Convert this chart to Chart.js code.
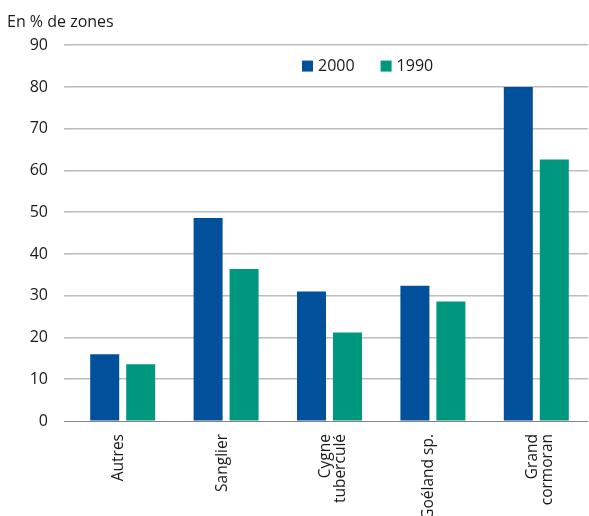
<!DOCTYPE html>
<html lang="fr">
<head>
<meta charset="utf-8">
<title>Zones touchées par espèce</title>
<script src="https://cdn.jsdelivr.net/npm/chart.js@4.4.1/dist/chart.umd.min.js"></script>
<style>
  html, body { margin: 0; padding: 0; background: #ffffff; }
  #wrap { position: relative; width: 589px; height: 516px; }
</style>
</head>
<body>
<div id="wrap"><canvas id="chart"></canvas></div>
<script>
// Espèces (catégories) et part des zones concernées, en %
const categories = ['Autres', 'Sanglier', ['Cygne', 'tuberculé'], 'Goéland sp.', ['Grand', 'cormoran']];
const values2000 = [16, 48.6, 31, 32.4, 80];
const values1990 = [13.6, 36.4, 21.2, 28.6, 62.6];
const seriesLabels = ['2000', '1990'];
const yTicks = [0, 10, 20, 30, 40, 50, 60, 70, 80, 90];
const yTitle = 'En % de zones';

const FONT = '"Open Sans", "Noto Sans", sans-serif';
const TEXT = '#1a1a1a';
const BLUE = '#00509c';
const GREEN = '#00977f';

// Légende dessinée dans la zone du graphique, entre les lignes 90 et 80
const insideLegend = {
  id: 'insideLegend',
  afterDraw(chart) {
    const { ctx, chartArea } = chart;
    const y = chart.scales.y.getPixelForValue(85);
    let x = chartArea.left + 231;
    ctx.save();
    ctx.font = '16px ' + FONT;
    ctx.textBaseline = 'middle';
    chart.data.datasets.forEach((ds) => {
      ctx.fillStyle = ds.backgroundColor;
      ctx.fillRect(x, y - 5.5, 11, 11);
      x += 16;
      ctx.fillStyle = TEXT;
      ctx.fillText(ds.label, x, y + 0.5);
      x += ctx.measureText(ds.label).width + 26;
    });
    ctx.restore();
  }
};

new Chart(document.getElementById('chart'), {
  type: 'bar',
  data: {
    labels: categories,
    datasets: [
      { label: seriesLabels[0], data: values2000, backgroundColor: BLUE },
      { label: seriesLabels[1], data: values1990, backgroundColor: GREEN }
    ]
  },
  options: {
    responsive: true,
    maintainAspectRatio: false,
    animation: false,
    layout: { padding: { left: 7, right: 1, top: 0, bottom: 0 } },
    datasets: {
      bar: { categoryPercentage: 0.696, barPercentage: 0.806 }
    },
    plugins: {
      legend: { display: false },
      tooltip: { enabled: false },
      title: {
        display: true,
        text: yTitle,
        align: 'start',
        color: TEXT,
        font: { family: FONT, size: 16, weight: 'normal' },
        padding: { top: 13, bottom: 13 }
      }
    },
    scales: {
      x: {
        grid: { display: false },
        border: { display: false },
        ticks: {
          color: TEXT,
          font: { family: FONT, size: 15.5, lineHeight: 0.97 },
          minRotation: 90,
          maxRotation: 90,
          autoSkip: false,
          padding: 5,
          labelOffset: -4
        },
        afterFit(scale) { scale.height = 95; }
      },
      y: {
        min: 0,
        max: 90,
        afterBuildTicks(scale) { scale.ticks = yTicks.map(v => ({ value: v })); },
        border: { display: false },
        grid: {
          color: (c) => (c.tick && c.tick.value === 0 ? '#858585' : '#bcbcbc'),
          lineWidth: (c) => (c.tick && c.tick.value === 0 ? 1 : 1.6),
          tickLength: 7,
          drawTicks: true
        },
        ticks: {
          color: TEXT,
          font: { family: FONT, size: 16 },
          padding: 16
        },
        afterFit(scale) { scale.width = 64; }
      }
    }
  },
  plugins: [insideLegend]
});
</script>
</body>
</html>
